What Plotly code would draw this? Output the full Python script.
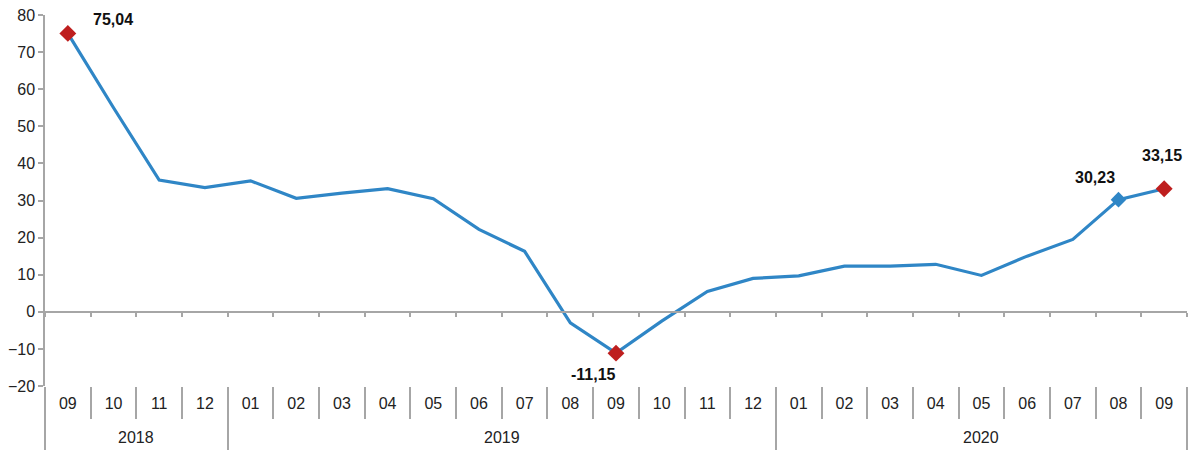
import plotly.graph_objects as go

months = ["09", "10", "11", "12",
          "01", "02", "03", "04", "05", "06", "07", "08", "09", "10", "11", "12",
          "01", "02", "03", "04", "05", "06", "07", "08", "09"]
years = ["2018"] * 4 + ["2019"] * 12 + ["2020"] * 9
values = [75.04, 55.0, 35.5, 33.5,
          35.3, 30.6, 32.0, 33.2, 30.5, 22.2, 16.3, -3.0, -11.15, -2.5, 5.5, 9.0,
          9.7, 12.3, 12.3, 12.8, 9.8, 15.0, 19.5, 30.23, 33.15]
red_points = [0, 12, 24]
blue_points = [23]
label_shifts = {0: (45, 14), 12: (-23, -21), 23: (-23, 22), 24: (-2, 33)}

LINE = "#2F86C6"
RED = "#BE1E1E"
GRAY = "#A6A6A6"
FONT = "Arial, Liberation Sans, sans-serif"
TXT = "#222"
FS = 16

n = len(values)
idx = list(range(n))
bounds = [i - 0.5 for i in range(n + 1)]

# year groups
groups = []
for i, yv in enumerate(years):
    if not groups or groups[-1][0] != yv:
        groups.append([yv, i, i])
    else:
        groups[-1][2] = i
year_bounds = [g[1] - 0.5 for g in groups] + [groups[-1][2] + 0.5]

fig = go.Figure()
fig.add_trace(go.Scatter(
    x=idx, y=values, mode="lines",
    line=dict(color=LINE, width=3.2),
    showlegend=False, hoverinfo="y",
))
fig.add_trace(go.Scatter(
    x=blue_points, y=[values[i] for i in blue_points], mode="markers",
    marker=dict(symbol="diamond", size=12, color=LINE, opacity=1, line=dict(width=0)),
    showlegend=False,
))
fig.add_trace(go.Scatter(
    x=red_points, y=[values[i] for i in red_points], mode="markers",
    marker=dict(symbol="diamond", size=13, color=RED, opacity=1, line=dict(width=0)),
    showlegend=False,
))
for ax in ["x2", "x3", "x4"]:
    fig.add_trace(go.Scatter(x=[], y=[], xaxis=ax, showlegend=False))

common = dict(range=[-0.5, n - 0.5], showgrid=False, zeroline=False, automargin=False)

fig.update_layout(
    width=1192, height=447,
    margin=dict(l=37, r=13, t=7, b=69),
    paper_bgcolor="white", plot_bgcolor="white",
    font=dict(family=FONT, size=FS, color=TXT),
    xaxis=dict(
        **common, tickmode="array", tickvals=idx, ticktext=months,
        showline=False, ticks="", ticklabelstandoff=6,
        tickfont=dict(family=FONT, size=FS, color=TXT),
    ),
    xaxis2=dict(
        **common, overlaying="x", anchor="free", position=0.2,
        showline=True, linecolor=GRAY, linewidth=1.5,
        ticks="outside", ticklen=4, tickcolor=GRAY, tickwidth=1.5,
        tickmode="array", tickvals=bounds, showticklabels=False,
    ),
    xaxis3=dict(
        **common, overlaying="x", anchor="free", position=0,
        showline=False, ticks="outside", ticklen=32, tickcolor=GRAY, tickwidth=1.5,
        tickmode="array", tickvals=bounds, showticklabels=False,
    ),
    xaxis4=dict(
        **common, overlaying="x", anchor="free", position=0,
        showline=False, ticks="outside", ticklen=63, tickcolor=GRAY, tickwidth=1.5,
        tickmode="array", tickvals=year_bounds, showticklabels=False,
    ),
    yaxis=dict(
        range=[-20, 80], dtick=10, tick0=0, automargin=False,
        showline=True, linecolor=GRAY, linewidth=1.5,
        ticks="outside", ticklen=5, tickcolor=GRAY, tickwidth=1.5,
        showgrid=False, zeroline=False, ticklabeloverflow="allow",
        tickfont=dict(family=FONT, size=FS, color=TXT),
    ),
)

for yv, a, b in groups:
    fig.add_annotation(
        x=(a + b) / 2, y=0, xref="x", yref="paper", yanchor="middle",
        text=yv, showarrow=False, yshift=-51,
        font=dict(family=FONT, size=FS, color=TXT),
    )

for i in red_points + blue_points:
    dx, dy = label_shifts[i]
    fig.add_annotation(
        x=i, y=values[i], xref="x", yref="y",
        text="<b>" + f"{values[i]:.2f}".replace(".", ",") + "</b>",
        showarrow=False, xshift=dx, yshift=dy,
        font=dict(family=FONT, size=FS, color="#111"),
    )

fig.write_html("out.html")
